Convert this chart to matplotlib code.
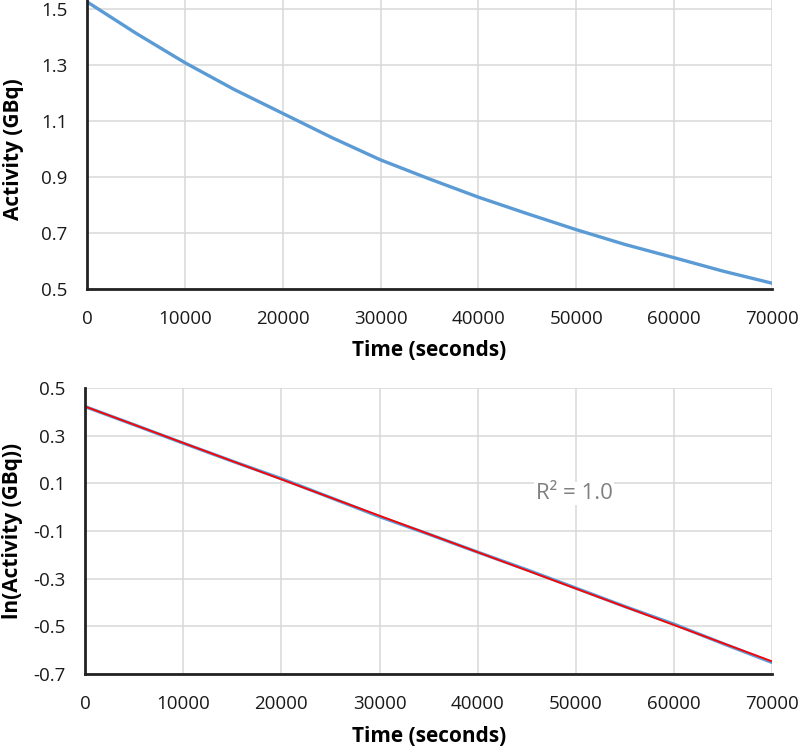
import numpy as np
from matplotlib import pyplot as plt

plt.rcParams['font.family'] = ['Open Sans', 'DejaVu Sans']

# readings, every 5000 s
time_s = [0, 5000, 10000, 15000, 20000, 25000, 30000, 35000,
          40000, 45000, 50000, 55000, 60000, 65000, 70000]
activity = [1.525, 1.413, 1.308, 1.213, 1.127, 1.041, 0.961, 0.893,
            0.828, 0.769, 0.712, 0.659, 0.612, 0.564, 0.521]
x_ticks = [0, 10000, 20000, 30000, 40000, 50000, 60000, 70000]
y_ticks_top = [0.5, 0.7, 0.9, 1.1, 1.3, 1.5]
y_ticks_bot = [-0.7, -0.5, -0.3, -0.1, 0.1, 0.3, 0.5]
r2_label = "R\u00b2 = 1.0"

blue = "#5b9bd5"
grid_col = "#d9d9d9"
tick_col = "#1a1a1a"

t = np.array(time_s)
ln_act = np.log(np.array(activity))
slope, icpt = np.polyfit(t, ln_act, 1)

fig = plt.figure(figsize=(8, 7.48), dpi=100)
ax1 = fig.add_axes([87.3/800, 1 - 289/748, 684.4/800, 289/748])
ax2 = fig.add_axes([85/800, 1 - 674/748, 687.3/800, 286/748])


def style(ax):
    ax.grid(True, color=grid_col, linewidth=1.1)
    ax.set_axisbelow(True)
    for s in ['top', 'right']:
        ax.spines[s].set_visible(False)
    for s in ['left', 'bottom']:
        ax.spines[s].set_linewidth(2)
        ax.spines[s].set_color('#222222')
    ax.tick_params(axis='both', length=0, labelsize=13.5, labelcolor=tick_col)
    ax.tick_params(axis='y', pad=14)
    ax.tick_params(axis='x', pad=15)
    ax.set_xlim(0, 70000)
    ax.set_xticks(x_ticks)
    ax.set_xticklabels([str(v) for v in x_ticks])


# top: activity vs time
ax1.plot(t, activity, color=blue, linewidth=2.4)
style(ax1)
ax1.set_ylim(0.5, 1.5 + 9/280)
ax1.set_yticks(y_ticks_top)
ax1.set_yticklabels(["%.1f" % v for v in y_ticks_top])
ax1.set_xlabel("Time (seconds)", fontsize=15, fontweight='bold', va='center')
ax1.set_ylabel("Activity (GBq)", fontsize=15, fontweight='bold', va='center')
ax1.xaxis.set_label_coords(0.5, -(350 - 289)/289)
ax1.yaxis.set_label_coords(-(87 - 13)/684.4, (289 - 149)/289)

# bottom: ln(activity) with linear fit
ax2.plot(t, ln_act, color=blue, linewidth=2.4)
ax2.plot([0, 70000], [icpt, icpt + slope*70000], color='#ff0000', linewidth=1.3)
style(ax2)
ax2.set_ylim(-0.7, 0.5)
ax2.set_yticks(y_ticks_bot)
ax2.set_yticklabels(["%.1f" % v for v in y_ticks_bot])
ax2.set_xlabel("Time (seconds)", fontsize=15, fontweight='bold', va='center')
ax2.set_ylabel("ln(Activity (GBq))", fontsize=15, fontweight='bold', va='center')
ax2.xaxis.set_label_coords(0.5, -(737 - 674)/286)
ax2.yaxis.set_label_coords(-(85 - 13)/687.3, 0.5)
ax2.text(49800, 0.058, r2_label, fontsize=16, color='#808080',
         ha='center', va='center',
         bbox=dict(facecolor='white', edgecolor='none', pad=1))

plt.savefig('out.png', dpi=100)
